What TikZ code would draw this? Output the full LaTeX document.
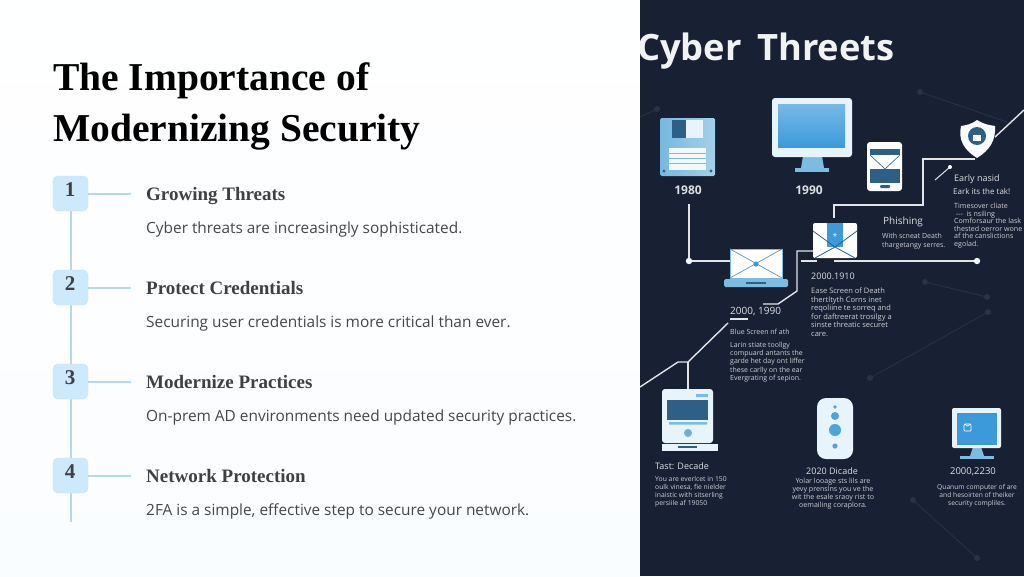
\documentclass[tikz,border=0pt]{standalone}
\usepackage{fontspec}
\setmainfont{Liberation Serif}
\newfontfamily\uifont{Open Sans}
\usetikzlibrary{shapes.geometric}
\definecolor{panel}{HTML}{182134}
\definecolor{stepfill}{HTML}{CDE9FC}
\definecolor{steprule}{HTML}{B5D8EA}
\definecolor{icona}{HTML}{7CBCE0}
\definecolor{iconb}{HTML}{3C9ADB}
\definecolor{iconc}{HTML}{2E5F86}
\definecolor{iconw}{HTML}{E8F4FC}
\definecolor{faint}{HTML}{263349}
\tikzset{
  headline/.style={anchor=west,inner sep=0,font=\fontsize{39.5}{39.5}\selectfont\bfseries,text=black},
  stepbox/.style={draw=steprule!70,fill=stepfill,rounded corners=5pt,minimum size=35pt,inner sep=0},
  stepnum/.style={inner sep=0,font=\fontsize{21}{21}\selectfont\bfseries,text=black!75},
  steptitle/.style={anchor=base west,inner sep=0,font=\fontsize{19}{19}\selectfont\bfseries,text=black!75},
  stepdesc/.style={anchor=base west,inner sep=0,font=\uifont\fontsize{15.4}{16}\selectfont,text=black!72},
  stepline/.style={draw=steprule,line width=2pt},
  linew/.style={draw=white!88!panel,line width=1.4pt},
  big/.style={inner sep=0,font=\uifont\fontsize{10}{10}\selectfont,text=white!85!panel},
  small/.style={anchor=north west,inner sep=0,align=left,font=\uifont\fontsize{7}{8.3}\selectfont,text=white!78!panel},
  smallc/.style={anchor=north,inner sep=0,align=center,font=\uifont\fontsize{7}{8}\selectfont,text=white!78!panel},
  faintline/.style={draw=faint,line width=0.8pt},
}
\begin{document}
\begin{tikzpicture}[x=1pt,y=-1pt]
  \useasboundingbox (0,0) rectangle (1024,576);
  % left side
  \fill[top color=white!99!stepfill,bottom color=white!90!stepfill] (0,0) rectangle (640,576);
  \node[headline] (title1) at(53, 81){The Importance of};
  \node[headline] (title2) at(53, 132){Modernizing Security};

  \coordinate (stemend) at(70.5, 522);
  \node[stepbox] (step1) at(70.5, 193.5){};
  \draw[stepline] (step1.south) -- (stemend);
  \node[stepbox] (step2) at(70.5, 287.5){};
  \node[stepbox] (step3) at(70.5, 381.5){};
  \node[stepbox] (step4) at(70.5, 475.5){};
  \node[stepnum] (num1) at(70, 190){1};
  \node[stepnum] (num2) at(70, 284){2};
  \node[stepnum] (num3) at(70, 378){3};
  \node[stepnum] (num4) at(70, 472){4};

  \coordinate (tick1) at(131, 193.5);
  \coordinate (tick2) at(131, 287.5);
  \coordinate (tick3) at(131, 381.5);
  \coordinate (tick4) at(131, 475.5);
  \draw[stepline] (step1.east) -- (tick1);
  \draw[stepline] (step2.east) -- (tick2);
  \draw[stepline] (step3.east) -- (tick3);
  \draw[stepline] (step4.east) -- (tick4);

  \node[steptitle] (head1) at(146, 200){Growing Threats};
  \node[stepdesc] (desc1) at(146, 233.5){Cyber threats are increasingly sophisticated.};
  \node[steptitle] (head2) at(146, 294){Protect Credentials};
  \node[stepdesc] (desc2) at(146, 327.5){Securing user credentials is more critical than ever.};
  \node[steptitle] (head3) at(146, 388){Modernize Practices};
  \node[stepdesc] (desc3) at(146, 421.5){On-prem AD environments need updated security practices.};
  \node[steptitle] (head4) at(146, 482){Network Protection};
  \node[stepdesc] (desc4) at(146, 515.5){2FA is a simple, effective step to secure your network.};

  % right side
  \begin{scope}
    \clip (640,0) rectangle (1024,576);
    \fill[panel] (640,0) rectangle (1024,576);

    \draw[faintline] (920,92) -- (1007,122);
    \draw[faintline] (925,282) -- (987,297);
    \draw[faintline] (988,312) -- (870,378);
    \draw[faintline] (913,500) -- (977,558);
    \draw[faintline] (657,109) -- (640,117);
    \fill[faint] (920,92) circle (3) (925,282) circle (3) (987,297) circle (3)
      (988,312) circle (3) (870,378) circle (3) (913,500) circle (3) (977,558) circle (3) (657,109) circle (3);

    \node[inner sep=0,font=\uifont\fontsize{36.3}{36.3}\selectfont\bfseries,text=white!94!panel,anchor=west] (paneltitle) at(637, 51){Cyber\hspace{6pt} Threets};

    % floppy
    \fill[left color=icona!90!iconb,right color=icona!70!white,rounded corners=1.5pt] (660,118) rectangle (715,176);
    \fill[iconw] (672,120) rectangle (703,138);
    \fill[iconc] (672,120) rectangle (686,138);
    \fill[white!90!icona] (669,148) rectangle (706,170);
    \draw[icona,line width=1pt] (669,153) -- (706,153) (669,158) -- (706,158) (669,163) -- (706,163);
    \fill[iconc] (664,171) circle (1.6) (711,171) circle (1.6);
    \node[big,font=\uifont\fontsize{12}{12}\selectfont\bfseries] (y1980) at(688, 190){1980};

    % monitor
    \fill[icona] (803,156) -- (822,156) -- (824,168) -- (801,168) -- cycle;
    \fill[icona] (795,168) rectangle (829,172);
    \fill[iconw,rounded corners=3pt] (772,98) rectangle (852,157);
    \fill[bottom color=iconb,top color=iconb!70!white] (778,104) rectangle (845,147);
    \node[big,font=\uifont\fontsize{12}{12}\selectfont\bfseries] (y1990) at(809, 190){1990};

    % phone
    \fill[white,rounded corners=3pt] (867,142) rectangle (902,191);
    \fill[iconc] (870,149) rectangle (900,183);
    \fill[white] (870,155) rectangle (900,169);
    \draw[iconc,line width=0.6pt] (870,155) -- (885,169) -- (900,155);
    \fill[iconc,rounded corners=1pt] (880,185) rectangle (890,188);

    % shield
    \coordinate (shieldleft) at(995,137);
    \coordinate (shieldbase) at(975,159);
    \fill[white!96!icona] (977,120) .. controls (985,125) and (990,125) .. (995,126)
      .. controls (996,140) and (990,150) .. (977,158)
      .. controls (964,150) and (958,140) .. (961,126)
      .. controls (966,125) and (970,125) .. (977,120) -- cycle;
    \fill[iconc] (977,136) circle (9);
    \fill[white] (973,135) rectangle (981,141);
    \draw[white,line width=1pt] (974.5,135) arc (180:0:2.5);

    % upper run
    \coordinate (runa) at(1024,110);
    \coordinate (runb) at(923,159);
    \coordinate (runc) at(923,205);
    \coordinate (rund) at(834,205);
    \coordinate (rune) at(834,218);
    \draw[linew] (shieldleft) -- (runa);
    \draw[linew] (shieldbase) -- (runb) -- (runc) -- (rund) -- (rune);
    \coordinate (tickdot) at(950,167);
    \coordinate (tickend) at(935,180);
    \draw[linew,line width=1pt] (tickdot) -- (tickend);
    \fill[white] (tickdot) circle (2);

    % timeline
    \coordinate (drop) at(689,204);
    \coordinate (dotleft) at(689,261);
    \coordinate (laptopleft) at(730,261);
    \coordinate (stub1) at(801,261);
    \coordinate (stub2) at(817,261);
    \coordinate (lineright) at(834,261);
    \coordinate (dotright) at(977,261);
    \draw[linew] (drop) -- (dotleft) -- (laptopleft);
    \draw[linew] (stub1) -- (stub2);
    \draw[linew] (lineright) -- (dotright);
    \fill[white!92!icona] (dotleft) circle (3.2) (dotright) circle (3.2);

    % laptop
    \fill[white] (730,249) rectangle (782,278);
    \draw[icona,line width=0.7pt] (730,249) rectangle (782,278);
    \draw[icona!80!black,line width=0.7pt] (730,249) -- (782,278) (782,249) -- (730,278);
    \fill[iconb] (756,264) circle (2.6);
    \fill[icona,rounded corners=1.5pt] (724,279) rectangle (788,287);
    \fill[iconc] (746,282) rectangle (766,283.5);

    % mail with lock
    \fill[white,rounded corners=2pt] (813,223) rectangle (857,258);
    \draw[icona,line width=1pt] (827,223) arc (180:0:7);
    \fill[iconb] (827,223) rectangle (843,247);
    \draw[iconc,line width=0.8pt] (813,231) -- (835,247) -- (857,231) (815,258) -- (835,247) -- (855,258);
    \node[inner sep=0,text=white,font=\uifont\fontsize{8}{8}\selectfont] (mailstar) at(835, 236){*};

    % zigzag
    \coordinate (zzb) at(797,251);
    \coordinate (zzc) at(797,291);
    \coordinate (zzd) at(778,304);
    \coordinate (zze) at(763,304);
    \coordinate (mailedge) at(813,251);
    \draw[linew] (mailedge) -- (zzb) -- (zzc) -- (zzd) -- (zze);
    \coordinate (ula) at(730,319);
    \coordinate (ulb) at(748,319);
    \draw[linew] (ula) -- (ulb);
    \coordinate (dga) at(728,323);
    \coordinate (dgb) at(688,362);
    \coordinate (dgc) at(678,362);
    \coordinate (dgd) at(640,387);
    \coordinate (pctop) at(688,390);
    \draw[linew] (dga) -- (dgb) -- (dgc) -- (dgd);
    \draw[linew] (dgb) -- (pctop);

    % pc
    \fill[iconw,rounded corners=3pt] (662,389) rectangle (713,443);
    \fill[iconc] (667,400) rectangle (708,420);
    \fill[icona] (669,422) rectangle (707,424.5) (696,394) rectangle (708,397);
    \fill[icona!85!iconc] (688,433) circle (4);
    \fill[iconw] (662,444) rectangle (718,451);
    \fill[iconc] (678,446) rectangle (697,448);

    % pill
    \fill[iconw,rounded corners=9pt] (817,398) rectangle (853,459);
    \fill[iconb!70!icona] (835,407) circle (1.8) (835,416) circle (4) (835,430) circle (6) (835,446) circle (2.6);

    % monitor small
    \fill[icona] (973,447) -- (981,447) -- (984,456) -- (970,456) -- cycle;
    \fill[icona] (960,456) rectangle (994,459);
    \fill[iconw,rounded corners=2pt] (952,408) rectangle (1001,448);
    \fill[iconb] (957,413) rectangle (997,445);
    \draw[white,line width=0.7pt,rounded corners=1pt] (964,424) rectangle (971,431);
    \draw[white,line width=0.7pt] (965.5,424) arc (180:0:2);

    % labels
    \node[big,anchor=west,font=\uifont\fontsize{9}{9}\selectfont] (earlyhead) at(954, 179){Early nasid};
    \node[big,anchor=west,font=\uifont\fontsize{8}{8}\selectfont] (earlysub) at(953, 192){Eark its the tak!};
    \node[small,font=\uifont\fontsize{7.1}{7.6}\selectfont] (earlytext) at(954, 203){Timesover cliate\\ \ --- \ is nsiling\\ Comforsaur the lask\\ thested oerror wone\\ af the canslictions\\ egolad.};
    \node[big,anchor=west] (phishing) at(883, 222){Phishing};
    \node[small,font=\uifont\fontsize{7}{8.5}\selectfont] (phishtext) at(882, 233){With scneat Death\\ thargetangy serres.};
    \node[big,anchor=west,font=\uifont\fontsize{9}{9}\selectfont] (y1910) at(811, 276){2000.1910};
    \node[small,font=\uifont\fontsize{7.5}{8.5}\selectfont] (easetext) at(811, 288){Ease Screen of Death\\ thertltyth Corns inet\\ reqoliine te sorreq and\\ for daftreerat trosilgy a\\ sinste threatic securet\\ care.};
    \node[big,anchor=west] (y1990b) at(730, 312){2000, 1990};
    \node[small,font=\uifont\fontsize{7}{8}\selectfont] (bluehead) at(730, 329){Blue Screen nf ath};
    \node[small,font=\uifont\fontsize{7}{8.2}\selectfont] (bluetext) at(730, 342){Larin stiate toollgy\\ compuard antants the\\ garde het day ont liffer\\ these carlly on the ear\\ Evergrating of sepion.};
    \node[big,anchor=west,font=\uifont\fontsize{9}{9}\selectfont] (tasthead) at(655, 466){Tast: Decade};
    \node[small,font=\uifont\fontsize{6.8}{8}\selectfont] (tasttext) at(655, 476.5){You are everlcet in 150\\ oulk vinesa, fie nielder\\ inaistic with sitserling\\ persiile af 19050};
    \node[big,font=\uifont\fontsize{9}{9}\selectfont] (dicade) at(832, 471.5){2020 Dicade};
    \node[smallc,font=\uifont\fontsize{7.1}{8}\selectfont] (dicadetext) at(833, 477.5){Yolar looage sts lils are\\ yevy prenslns you ve the\\ wit the esale sraoy rist to\\ oemailing coraplora.};
    \node[big,font=\uifont\fontsize{9.5}{9.5}\selectfont] (y2230) at(973, 471.5){2000,2230};
    \node[smallc,font=\uifont\fontsize{6.7}{8}\selectfont] (quantext) at(977, 484.5){Quanum computer of are\\ and hesoirten of theiker\\ security compliles.};
  \end{scope}
\end{tikzpicture}
\end{document}
